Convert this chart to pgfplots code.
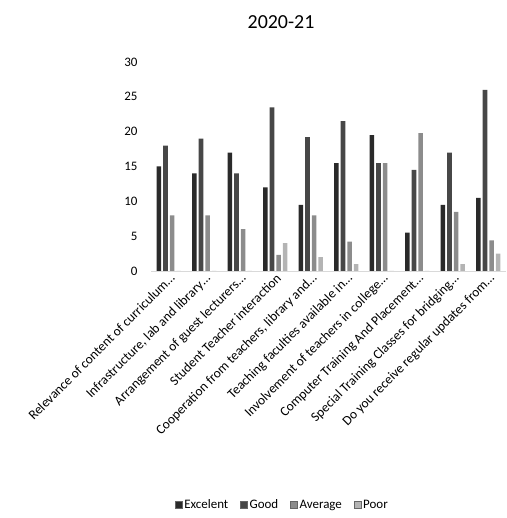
\documentclass[border=0pt]{standalone}
\usepackage{fontspec}
\setmainfont{Carlito}
\usepackage{pgfplots}
\pgfplotsset{compat=1.18}
\definecolor{cE}{HTML}{2A2A2A}
\definecolor{cG}{HTML}{474747}
\definecolor{cA}{HTML}{8C8C8C}
\definecolor{cP}{HTML}{B4B4B4}
\begin{document}
\begin{tikzpicture}[x=1bp,y=1bp]
\path[use as bounding box] (0,0) rectangle (507,518);
\node[font=\fontsize{20}{24}\selectfont] at (281,496) {2020-21};
\begin{axis}[
  at={(151bp,247bp)}, anchor=south west,
  scale only axis, width=355bp, height=209bp,
  ybar=2pt, bar width=4.6pt,
  xmin=-0.5, xmax=9.5, ymin=0, ymax=30,
  ytick={0,5,10,15,20,25,30},
  xtick={0,1,2,3,4,5,6,7,8,9},
  xticklabels={{Relevance of content of curriculum\ldots},{Infrastructure, lab and library\ldots},{Arrangement of guest lecturers\ldots},{Student Teacher interaction},{Cooperation from teachers, library and\ldots},{Teaching faculties available in\ldots},{Involvement of teachers in college\ldots},{Computer Training And Placement\ldots},{Special Training Classes for bridging\ldots},{Do you receive regular updates from\ldots}},
  xticklabel style={rotate=45, anchor=north east, font=\fontsize{13.5}{15}\selectfont, inner sep=1pt},
  yticklabel style={font=\fontsize{13}{15}\selectfont, xshift=-10pt},
  /pgf/number format/assume math mode=true,
  axis x line*=bottom, axis y line*=left,
  y axis line style={draw=none},
  x axis line style={draw=black!15},
  major tick length=0pt,
  legend columns=4,
  legend style={at={(0.37,-1.12)}, anchor=center, draw=none, font=\fontsize{13}{15}\selectfont, /tikz/every even column/.append style={column sep=10pt}},
  legend image code/.code={\draw[#1,draw=black!60] (0pt,-3.5pt) rectangle (7pt,3.5pt);},
]
\addplot[fill=cE, draw=none] coordinates {(0,15) (1,14) (2,17) (3,12) (4,9.5) (5,15.5) (6,19.5) (7,5.5) (8,9.5) (9,10.5)};
\addplot[fill=cG, draw=none] coordinates {(0,18) (1,19) (2,14) (3,23.5) (4,19.2) (5,21.5) (6,15.5) (7,14.5) (8,17) (9,26)};
\addplot[fill=cA, draw=none] coordinates {(0,8) (1,8) (2,6) (3,2.3) (4,8) (5,4.2) (6,15.5) (7,19.8) (8,8.5) (9,4.4)};
\addplot[fill=cP, draw=none] coordinates {(0,0) (1,0) (2,0) (3,4) (4,2) (5,1) (6,0) (7,0) (8,1) (9,2.5)};
\legend{Excelent,Good,Average,Poor}
\end{axis}
\end{tikzpicture}
\end{document}
